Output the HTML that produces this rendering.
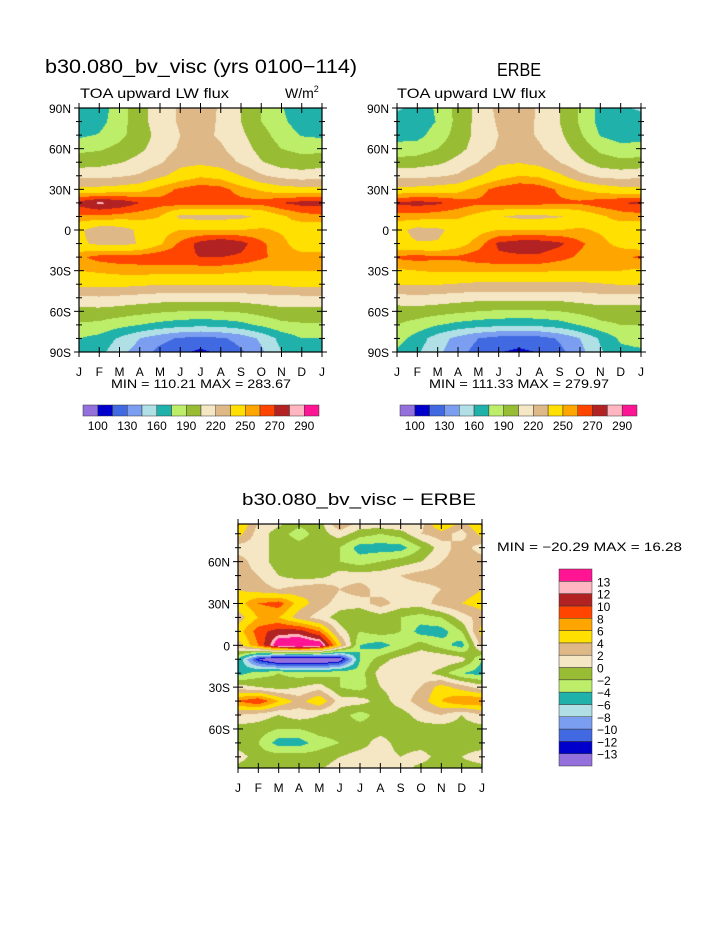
<!DOCTYPE html>
<html><head><meta charset="utf-8">
<style>
body{margin:0;background:#fff;}
#wrap{position:relative;width:723px;height:935px;overflow:hidden;font-family:"Liberation Sans",sans-serif;}
canvas{position:absolute;}
svg{position:absolute;left:0;top:0;}
</style></head>
<body>
<div id="wrap">
<canvas id="c1" width="243" height="244" style="left:79px;top:108px"></canvas>
<canvas id="c2" width="244" height="244" style="left:397px;top:108px"></canvas>
<canvas id="c3" width="244" height="244" style="left:238px;top:524px"></canvas>
<svg id="s" width="723" height="935"></svg>
</div>
<script>
// ---- data ----
const months = ["J","F","M","A","M","J","J","A","S","O","N","D","J"];
const lats = [90,80,70,60,50,40,30,20,10,0,-10,-20,-30,-40,-50,-60,-70,-80,-90];
const latTicks = ["90N","60N","30N","0","30S","60S","90S"];
const latTickVals = [90,60,30,0,-30,-60,-90];
const absLevels = [100,115,130,145,160,175,190,205,220,235,250,260,270,280,290];
const absLabels = ["100","130","160","190","220","250","270","290"];
const absLabelVals = [100,130,160,190,220,250,270,290];
const diffLevels = [-13,-12,-10,-8,-6,-4,-2,0,2,4,6,8,10,12,13];
const diffLabels = ["-13","-12","-10","-8","-6","-4","-2","0","2","4","6","8","10","12","13"];
const palette = ["#9370DB","#0000CD","#4169E1","#7B9EF0","#B0E0E6","#20B2AA","#BDEE6A","#98BC34","#F5E6C4","#DEB887","#FFE000","#FFA500","#FF4500","#B22222","#FFB6C1","#FF1493"];
const modelField = [
[166,168,182,200,212,222,228,218,205,190,176,166,166],
[166,170,183,200,212,222,226,218,205,190,178,168,166],
[172,176,186,198,210,220,224,218,208,196,183,174,172],
[186,188,194,202,212,222,226,222,212,200,190,186,186],
[198,200,204,210,218,230,232,228,218,206,198,196,198],
[215,215,218,222,232,242,248,245,235,222,215,212,215],
[240,240,242,245,255,262,266,264,255,248,242,240,240],
[274,282,278,270,264,266,266,265,264,264,270,274,274],
[258,258,256,254,250,232,230,230,232,238,248,255,258],
[238,226,228,238,246,250,250,250,250,252,248,242,238],
[238,232,230,236,248,262,274,280,274,262,254,242,238],
[258,264,266,265,268,268,270,270,268,262,256,255,258],
[250,252,254,256,254,254,254,254,252,250,250,250,250],
[240,240,240,238,236,236,236,236,236,236,238,240,240],
[216,218,216,214,212,212,212,212,212,214,216,216,216],
[200,200,198,195,192,190,190,190,192,196,200,200,200],
[188,186,180,175,170,166,164,166,170,178,186,188,188],
[175,170,158,145,135,128,125,128,135,148,165,175,175],
[170,165,150,138,125,118,112,118,128,142,160,170,170]];
const erbeField = [
[158,164,178,195,210,224,228,218,205,188,170,162,158],
[166,166,176,195,210,222,226,218,205,188,170,166,166],
[170,170,182,196,210,220,226,218,208,192,174,168,170],
[180,182,190,200,212,222,228,222,212,200,186,180,180],
[196,198,202,210,220,232,234,230,220,208,198,194,196],
[216,216,218,222,234,244,250,248,238,224,216,214,216],
[240,240,242,245,256,264,268,266,258,250,244,240,240],
[272,274,272,266,262,264,265,264,262,262,266,270,272],
[256,256,254,252,246,236,232,232,234,240,248,254,256],
[240,230,232,240,246,250,250,250,250,252,248,242,240],
[240,236,236,244,255,272,276,276,272,262,254,246,240],
[262,264,262,262,266,268,268,268,264,258,255,258,262],
[248,250,252,252,252,252,252,252,250,250,250,250,248],
[236,236,236,234,232,232,232,232,232,232,234,236,236],
[214,216,214,212,210,210,210,210,210,212,214,214,214],
[198,198,196,193,190,188,188,188,190,194,198,198,198],
[190,184,176,170,166,164,162,164,168,176,186,190,190],
[182,168,152,140,130,124,122,124,132,145,162,178,182],
[172,162,148,136,124,116,112,116,126,140,158,170,172]];
const diffField = [
[7,2,1,-1,-1,5,2,3,3,1,8,4,7],
[5,1,-1,-3,-1,1,-1,-2,-1,2,3,1,5],
[1,1,-1,-1,-1,-2,-5,-5,-5,-2,1,3,1],
[3,1,-1,-1,-1,-2,-3,-2,-1,0,2,3,3],
[3,2,0,-1,-1,1,1,1,2,3,3,3,3],
[4,3,2,3,4,2,3,1,1,1,2,3,4],
[5,8,9,5,3,1,1,3,1,1,3,4,5],
[3,6,6,3,1,-1,-2,-1,-2,-3,-2,1,3],
[5,9,11,11,8,1,-2,-1,-2,-5,-5,-2,5],
[3,8,15,16,15,5,-4,-5,-3,-1,-3,-5,3],
[-4,-13,-17,-17,-17,-15,-4,-1,1,2,2,1,-4],
[-5,-3,-2,-3,-3,-2,-3,1,2,1,-1,-4,-5],
[1,0,-1,0,1,-2,-3,0,1,2,5,3,1],
[8,10,6,3,6,1,1,-1,1,3,6,8,8],
[2,1,0,1,0,-1,-3,-1,-1,1,2,0,2],
[-1,-1,-2,-2,-1,-1,-1,-1,-1,-1,-1,-1,-1],
[-1,-2,-5,-5,-3,-2,-1,1,-1,-1,-2,-1,-1],
[1,-1,-1,-1,-1,0,1,1,0,1,-1,0,1],
[-1,-2,-2,-1,0,1,1,0,1,-1,-2,-1,-1]];

// ---- rendering ----
function interp(f, mi, lat){
  const r=(90-lat)/10, c=mi;
  const r0=Math.max(0,Math.min(17,Math.floor(r))), c0=Math.max(0,Math.min(11,Math.floor(c)));
  const fr=r-r0, fc=c-c0;
  return f[r0][c0]*(1-fr)*(1-fc)+f[r0][c0+1]*(1-fr)*fc+f[r0+1][c0]*fr*(1-fc)+f[r0+1][c0+1]*fr*fc;
}
function colorFor(v, levels){
  let i=0; while(i<levels.length && v>=levels[i]) i++;
  return palette[i];
}
function drawField(id, f, levels, latTop, latBot){
  const cv=document.getElementById(id), ctx=cv.getContext('2d');
  const W=cv.width,H=cv.height;
  for(let y=0;y<H;y++){
    const lat=latTop-(latTop-latBot)*(y+0.5)/H;
    for(let x=0;x<W;x++){
      const mi=12*(x+0.5)/W;
      ctx.fillStyle=colorFor(interp(f,mi,lat),levels);
      ctx.fillRect(x,y,1,1);
    }
  }
}
drawField('c1',modelField,absLevels,90,-90);
drawField('c2',erbeField,absLevels,90,-90);
drawField('c3',diffField,diffLevels,87,-88);

const NS='http://www.w3.org/2000/svg', svg=document.getElementById('s');
function el(tag, attrs, txt){
  const e=document.createElementNS(NS,tag);
  for(const k in attrs) e.setAttribute(k,attrs[k]);
  if(txt!==undefined) e.textContent=txt;
  svg.appendChild(e); return e;
}
function text(x,y,s,size,anchor,name,len){
  const a={x:x,y:y,'font-size':size,'text-anchor':anchor||'start',fill:'#000','font-family':'Liberation Sans, sans-serif'};
  if(len){a.textLength=len;a.lengthAdjust='spacingAndGlyphs';}
  const t=el('text',a,s);
  
  
  return t;
}
function axes(x0,y0,w,h,latTop,latBot,showLabels,prefix){
  const fr=el('rect',{x:x0,y:y0,width:w,height:h,fill:'none',stroke:'#000','stroke-width':1.2});
  
  
  const xs=m=>x0+w*m/12, ys=l=>y0+h*(latTop-l)/(latTop-latBot);
  months.forEach((m,i)=>{
    const x=xs(i);
    el('line',{x1:x,y1:y0+h-5,x2:x,y2:y0+h+5,stroke:'#000'});
    el('line',{x1:x,y1:y0-5,x2:x,y2:y0+5,stroke:'#000'});
    text(x,y0+h+24,m,12,'middle',prefix+'-month-label');
  });
  for(let l=90;l>=-90;l-=10){
    if(l>latTop||l<latBot) continue;
    const y=ys(l), major=l%30===0, len=major?5:3;
    el('line',{x1:x0-len,y1:y,x2:x0+len,y2:y,stroke:'#000'});
    el('line',{x1:x0+w-len,y1:y,x2:x0+w+len,y2:y,stroke:'#000'});
  }
  if(showLabels) latTickVals.forEach((l,i)=>{
    if(l>latTop||l<latBot) return;
    text(x0-8,ys(l)+5,latTicks[i],12,'end',prefix+'-lat-label');
  });
}
axes(79,108,243,244,90,-90,true,'model');
axes(397,108,244,244,90,-90,true,'erbe');
axes(238,524,244,244,87,-88,true,'diff');

function hbar(x0,y0,w,h,prefix){
  const bw=w/16;
  palette.forEach((c,i)=>{
    const r=el('rect',{x:x0+i*bw,y:y0,width:bw,height:h,fill:c,stroke:'#333','stroke-width':0.5});
    
    
  });
  absLabelVals.forEach((v,i)=>{
    const k=absLevels.indexOf(v);
    text(x0+(k+1)*bw,y0+h+14,absLabels[i],12,'middle',prefix+'-colorbar-label');
  });
}
hbar(83,405,236,11,'model');
hbar(400,405,237,11,'erbe');

(function(){
  const x0=559,y0=569,w=33,h=197,bh=h/16;
  palette.forEach((c,i)=>{
    const r=el('rect',{x:x0,y:y0+h-(i+1)*bh,width:w,height:bh,fill:c,stroke:'#333','stroke-width':0.5});
    
    
  });
  diffLabels.forEach((s,i)=>{
    text(x0+w+5,y0+h-(i+1)*bh+5,s.replace('-','\u2212'),12,'start','diff-colorbar-label');
  });
})();

text(45,73,"b30.080_bv_visc (yrs 0100\u2212114)",19,'start','model-title',312);
text(80,98,"TOA upward LW flux",14,'start','model-subtitle',149);
const u=text(285,98,"W/m",14,'start','units-label');
const sup=document.createElementNS(NS,'tspan'); sup.setAttribute('font-size','9'); sup.setAttribute('dy','-6'); sup.textContent='2'; u.appendChild(sup);
text(497,76,"ERBE",18,'start','erbe-title',44);
text(397,98,"TOA upward LW flux",14,'start','erbe-subtitle',149);
text(111,388,"MIN = 110.21 MAX = 283.67",12,'start','model-minmax',180);
text(429,388,"MIN = 111.33 MAX = 279.97",12,'start','erbe-minmax',180);
text(242,505,"b30.080_bv_visc \u2212 ERBE",17,'start','diff-title',234);
text(497,551,"MIN = \u221220.29 MAX =  16.28",12,'start','diff-minmax',185);
</script>
</body></html>
